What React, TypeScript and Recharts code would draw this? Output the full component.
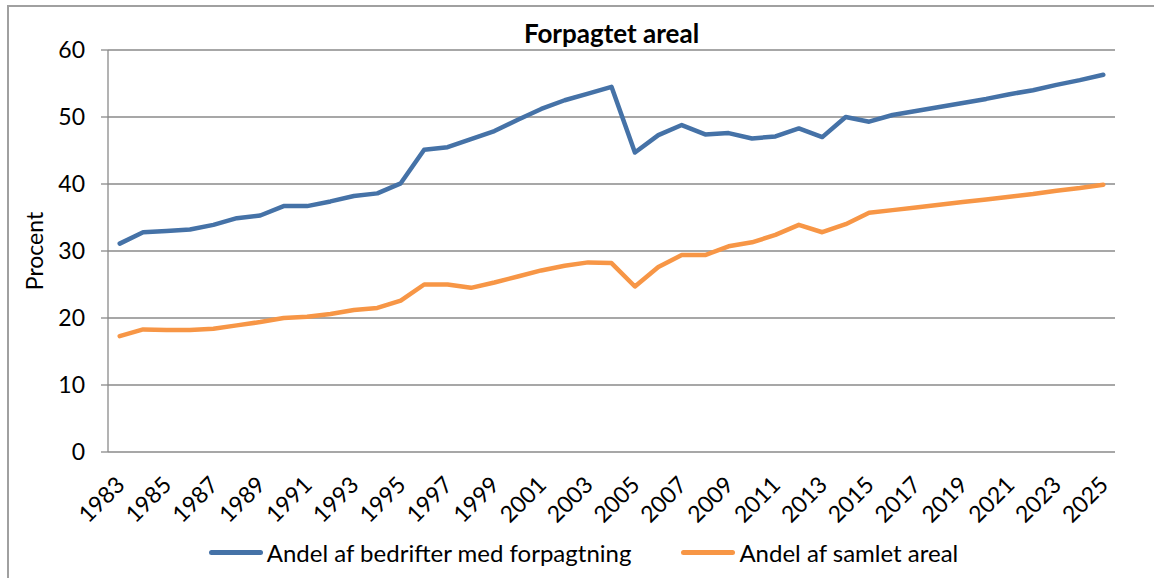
import { CartesianGrid, Line, LineChart, XAxis, YAxis } from "recharts";

// Excel-style chart: 1983-2025, two series in percent.
const YEARS = [
  1983, 1984, 1985, 1986, 1987, 1988, 1989, 1990, 1991, 1992, 1993, 1994, 1995, 1996, 1997,
  1998, 1999, 2000, 2001, 2002, 2003, 2004, 2005, 2006, 2007, 2008, 2009, 2010, 2011, 2012,
  2013, 2014, 2015, 2016, 2017, 2018, 2019, 2020, 2021, 2022, 2023, 2024, 2025,
];

const BEDRIFTER = [
  31.1, 32.8, 33.0, 33.2, 33.9, 34.9, 35.3, 36.7, 36.7, 37.4, 38.2, 38.6, 40.1, 45.1, 45.5,
  46.7, 47.9, 49.6, 51.2, 52.5, 53.5, 54.5, 44.7, 47.3, 48.8, 47.4, 47.6, 46.8, 47.1, 48.3,
  47.0, 50.0, 49.3, 50.3, 50.9, 51.5, 52.1, 52.7, 53.4, 54.0, 54.8, 55.5, 56.3,
];

const AREAL = [
  17.3, 18.3, 18.2, 18.2, 18.4, 18.9, 19.4, 20.0, 20.2, 20.6, 21.2, 21.5, 22.6, 25.0, 25.0,
  24.5, 25.3, 26.2, 27.1, 27.8, 28.3, 28.2, 24.7, 27.6, 29.4, 29.4, 30.7, 31.3, 32.4, 33.9,
  32.8, 34.0, 35.7, 36.1, 36.5, 36.9, 37.3, 37.7, 38.1, 38.5, 39.0, 39.4, 39.9,
];

const Y_TICKS = [0, 10, 20, 30, 40, 50, 60];
// every other year gets a label, starting with the first
const LABEL_YEARS = YEARS.filter((_, i) => i % 2 === 0);
// Excel puts the tick marks between categories
const BOUNDARY_TICKS = [...YEARS.map((y) => y - 0.5), YEARS[YEARS.length - 1] + 0.5];
const X_DOMAIN = [YEARS[0] - 0.5, YEARS[YEARS.length - 1] + 0.5];

const SERIES = [
  { key: "bedrifter", name: "Andel af bedrifter med forpagtning", color: "#4572A7" },
  { key: "areal", name: "Andel af samlet areal", color: "#F79646" },
];

const data = YEARS.map((year, i) => ({ year, bedrifter: BEDRIFTER[i], areal: AREAL[i] }));

const FONT = 'Lato, "Open Sans", sans-serif';
const GRID = "#8a8a8a";
const TICK_SIZE = 23;

function YearTick({ x, y, payload }: any) {
  return (
    <text
      x={x}
      y={y}
      transform={`rotate(-45 ${x} ${y})`}
      textAnchor="end"
      dominantBaseline="central"
      fontSize={TICK_SIZE}
      fontFamily={FONT}
      fill="#000"
    >
      {payload.value}
    </text>
  );
}

function BlankTick() {
  return <g />;
}

export default function App() {
  return (
    <div style={{ position: "absolute", left: 0, top: 0, width: 1154, height: 578, overflow: "hidden", background: "#fff" }}>
      {/* frame of the embedded chart object */}
      <div
        style={{
          position: "absolute",
          left: 7,
          top: 5,
          width: 1200,
          height: 600,
          borderLeft: "2px solid #a0a0a0",
          borderTop: "2px solid #a0a0a0",
        }}
      />
      <div
        style={{
          position: "absolute",
          left: 108,
          width: 1007,
          top: 17,
          textAlign: "center",
          fontFamily: FONT,
          fontWeight: 700,
          fontSize: 26,
          color: "#000",
        }}
      >
        Forpagtet areal
      </div>
      <div style={{ position: "absolute", left: 0, top: 0 }}>
        <LineChart width={1154} height={578} data={data} margin={{ top: 50, right: 39, left: 0, bottom: 56 }}>
          <CartesianGrid horizontal vertical={false} stroke={GRID} strokeWidth={1.3} />
          <XAxis
            xAxisId="bounds"
            dataKey="year"
            type="number"
            domain={X_DOMAIN}
            ticks={BOUNDARY_TICKS}
            tick={BlankTick}
            tickSize={7}
            height={0}
            stroke={GRID}
            strokeWidth={1.3}
          />
          <XAxis
            xAxisId="labels"
            dataKey="year"
            type="number"
            domain={X_DOMAIN}
            allowDataOverflow
            ticks={LABEL_YEARS}
            tick={YearTick}
            tickLine={false}
            axisLine={false}
            tickSize={0}
            tickMargin={28}
            height={70}
            interval={0}
          />
          <YAxis
            domain={[0, 60]}
            ticks={Y_TICKS}
            width={108}
            tickSize={7}
            tickMargin={16}
            stroke={GRID}
            strokeWidth={1.3}
            tick={{ fontSize: TICK_SIZE, fontFamily: FONT, fill: "#000" }}
            label={{
              content: ({ viewBox }: any) => (
                <text
                  transform={`translate(34 ${viewBox.y + viewBox.height / 2}) rotate(-90)`}
                  textAnchor="middle"
                  dominantBaseline="central"
                  fontSize={TICK_SIZE}
                  fontFamily={FONT}
                  fill="#000"
                >
                  Procent
                </text>
              ),
            }}
          />
          {SERIES.map((s) => (
            <Line
              key={s.key}
              xAxisId="bounds"
              dataKey={s.key}
              name={s.name}
              stroke={s.color}
              strokeWidth={4.5}
              strokeLinejoin="round"
              strokeLinecap="round"
              dot={false}
              activeDot={false}
              isAnimationActive={false}
            />
          ))}
        </LineChart>
      </div>
      <div
        style={{
          position: "absolute",
          left: 0,
          width: 1167,
          top: 538,
          display: "flex",
          justifyContent: "center",
          alignItems: "center",
          gap: 50,
          fontFamily: FONT,
          fontSize: 24,
          color: "#000",
        }}
      >
        {SERIES.map((s) => (
          <div key={s.key} style={{ display: "flex", alignItems: "center", gap: 4 }}>
            <div style={{ width: 54, height: 4.5, borderRadius: 3, background: s.color }} />
            <span>{s.name}</span>
          </div>
        ))}
      </div>
    </div>
  );
}
